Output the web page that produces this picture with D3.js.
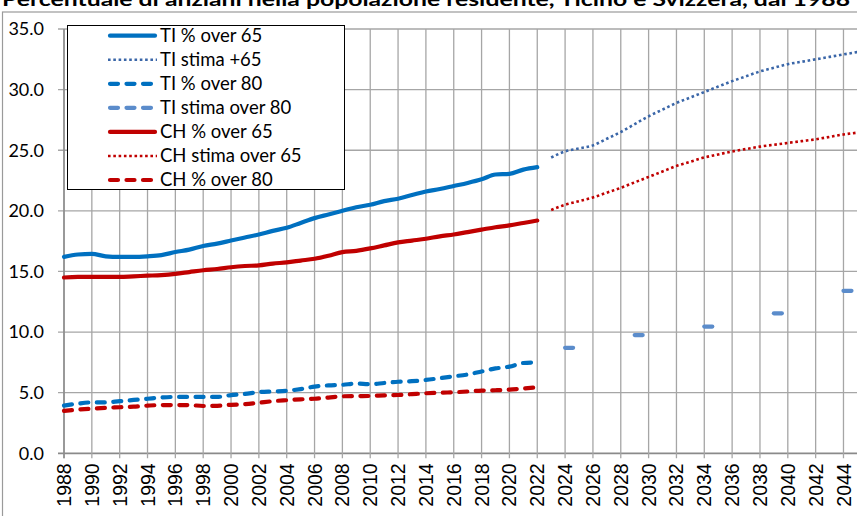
<!DOCTYPE html>
<html>
<head>
<meta charset="utf-8">
<script src="https://cdn.jsdelivr.net/npm/d3@7"></script>
<style>
  html, body { margin: 0; padding: 0; background: #fff; }
  svg { display: block; }
</style>
</head>
<body>
<svg id="chart" width="857" height="516"></svg>
<script>
// ---- DATA ----
const title = "Percentuale di anziani nella popolazione residente, Ticino e Svizzera, dal 1988";
const histYears = d3.range(1988, 2023);      // 1988..2022
const projYears = d3.range(2023, 2046);      // 2023..2045
const axisYears = d3.range(1988, 2046);      // category axis
const xTickLabels = d3.range(1988, 2045, 2).map(String);
const yTicks = [0, 5, 10, 15, 20, 25, 30, 35];

const tiOver65 = [16.2,16.4,16.45,16.25,16.2,16.2,16.25,16.35,16.6,16.8,17.1,17.3,17.55,17.8,18.05,18.35,18.6,19.0,19.4,19.7,20.0,20.3,20.5,20.8,21.0,21.3,21.6,21.8,22.05,22.3,22.6,23.0,23.05,23.4,23.6];
const chOver65 = [14.5,14.55,14.55,14.55,14.55,14.6,14.65,14.7,14.8,14.95,15.1,15.2,15.35,15.45,15.5,15.65,15.75,15.9,16.05,16.3,16.6,16.7,16.9,17.15,17.4,17.55,17.7,17.9,18.05,18.25,18.45,18.65,18.8,19.0,19.2];
const tiOver80 = [3.93,4.1,4.2,4.2,4.3,4.4,4.5,4.6,4.65,4.65,4.65,4.65,4.8,4.9,5.05,5.1,5.15,5.3,5.5,5.6,5.65,5.75,5.7,5.8,5.9,5.95,6.05,6.2,6.35,6.5,6.75,7.0,7.15,7.45,7.5];
const chOver80 = [3.5,3.6,3.68,3.75,3.8,3.85,3.93,3.98,3.98,3.98,3.9,3.92,4.0,4.05,4.17,4.3,4.38,4.45,4.5,4.6,4.7,4.72,4.73,4.78,4.81,4.88,4.95,5.0,5.03,5.1,5.17,5.2,5.25,5.35,5.44];
const tiStima65 = [24.4,24.9,25.15,25.4,25.95,26.5,27.15,27.8,28.35,28.9,29.35,29.8,30.25,30.7,31.1,31.5,31.8,32.1,32.3,32.5,32.7,32.9,33.1];
const chStima65 = [20.07,20.5,20.8,21.1,21.5,21.9,22.35,22.8,23.25,23.7,24.05,24.4,24.65,24.9,25.1,25.3,25.45,25.6,25.75,25.9,26.1,26.3,26.45];
const tiStima80Years = [2024, 2029, 2034, 2039, 2044];
const tiStima80 = [8.7, 9.75, 10.45, 11.55, 13.4];

const legendLabels = ["TI % over 65","TI stima +65","TI % over 80","TI stima over 80","CH % over 65","CH stima over 65","CH % over 80"];

// ---- STYLES ----
const C_BLUE = "#0070C0", C_BLUE_DOT = "#3A66A8", C_BLUE_LIGHT = "#5B8CCB", C_RED = "#C00000";
const styles = [
  {color: C_BLUE, width: 4.2, dash: null, cap: "round"},
  {color: C_BLUE_DOT, width: 2.6, dash: "2.6,2.7", cap: "butt"},
  {color: C_BLUE, width: 4.2, dash: "8,8.5", cap: "round"},
  {color: C_BLUE_LIGHT, width: 4.2, dash: "8,8.5", cap: "round"},
  {color: C_RED, width: 4.2, dash: null, cap: "round"},
  {color: C_RED, width: 2.6, dash: "2.6,2.7", cap: "butt"},
  {color: C_RED, width: 4.2, dash: "8,8.5", cap: "round"}
];

const svg = d3.select("#chart");
const FONT = "Lato, 'Open Sans', sans-serif";

// chart area border
svg.append("rect").attr("x", 2.5).attr("y", 12).attr("width", 900).attr("height", 600)
  .attr("fill", "#fff").attr("stroke", "#9a9a9a").attr("stroke-width", 1.2);

// title (partly above the top edge, as in the reference)
svg.append("text").attr("x", 2).attr("y", 6)
  .attr("font-family", FONT).attr("font-weight", "bold").attr("font-size", 19)
  .attr("textLength", 848).attr("lengthAdjust", "spacingAndGlyphs")
  .attr("fill", "#000").text(title);

// scales
const x = d3.scalePoint().domain(axisYears).range([64, 857.4]);
const y = d3.scaleLinear().domain([0, 35]).range([453.3, 29]);

// gridlines
const grid = svg.append("g");
grid.selectAll("line.h").data(yTicks).join("line")
  .attr("x1", 58).attr("x2", 857).attr("y1", d => y(d)).attr("y2", d => y(d))
  .attr("stroke", d => d === 0 ? "#8a8a8a" : "#a6a6a6").attr("stroke-width", d => d === 0 ? 1.8 : 1.3);
grid.selectAll("line.v").data(xTickLabels).join("line")
  .attr("x1", d => x(+d)).attr("x2", d => x(+d)).attr("y1", y(35)).attr("y2", y(0) + 5)
  .attr("stroke", "#a6a6a6").attr("stroke-width", 1.3);
// y axis line
svg.append("line").attr("x1", 64).attr("x2", 64).attr("y1", y(35)).attr("y2", y(0) + 5)
  .attr("stroke", "#8a8a8a").attr("stroke-width", 1.5);

// y labels
svg.append("g").selectAll("text").data(yTicks).join("text")
  .attr("x", 44).attr("y", d => y(d)).attr("dy", "0.35em").attr("text-anchor", "end")
  .attr("font-family", FONT).attr("font-size", 18).attr("fill", "#000")
  .text(d => d.toFixed(1));

// x labels
svg.append("g").selectAll("text").data(xTickLabels).join("text")
  .attr("transform", d => `translate(${x(+d)},${y(0) + 10}) rotate(-90)`)
  .attr("dy", "0.36em").attr("text-anchor", "end")
  .attr("font-family", "'Liberation Sans', Arial, sans-serif").attr("font-size", 19.5).attr("fill", "#000")
  .text(d => d);

// lines
const line = d3.line().x(d => x(d[0])).y(d => y(d[1])).curve(d3.curveMonotoneX);
function drawSeries(years, values, st) {
  svg.append("path").datum(years.map((yr, i) => [yr, values[i]]))
    .attr("d", line).attr("fill", "none")
    .attr("stroke", st.color).attr("stroke-width", st.width)
    .attr("stroke-linecap", st.cap).attr("stroke-linejoin", "round")
    .attr("stroke-dasharray", st.dash);
}
drawSeries(histYears, chOver80, styles[6]);
drawSeries(histYears, tiOver80, styles[2]);
drawSeries(projYears, chStima65, styles[5]);
drawSeries(projYears, tiStima65, styles[1]);
drawSeries(histYears, chOver65, styles[4]);
drawSeries(histYears, tiOver65, styles[0]);
// TI stima over 80: isolated estimates drawn as short dashes over one category step
svg.append("g").selectAll("line").data(tiStima80Years.map((yr, i) => [yr, tiStima80[i]])).join("line")
  .attr("x1", d => x(d[0])).attr("x2", d => x(d[0] + 1))
  .attr("y1", d => y(d[1])).attr("y2", d => y(d[1]))
  .attr("stroke", C_BLUE_LIGHT).attr("stroke-width", 4.2).attr("stroke-linecap", "round")
  .attr("stroke-dasharray", "8,8.5");

// legend
const lg = svg.append("g");
lg.append("rect").attr("x", 67.5).attr("y", 25.5).attr("width", 277).attr("height", 164)
  .attr("fill", "#fff").attr("stroke", "#000").attr("stroke-width", 1);
legendLabels.forEach((lab, i) => {
  const yy = 35.7 + i * 24.05;
  const st = styles[i];
  lg.append("line").attr("x1", st.cap === "round" ? 110 : 108).attr("x2", st.cap === "round" ? 155 : 157)
    .attr("y1", yy).attr("y2", yy)
    .attr("stroke", st.color).attr("stroke-width", st.width).attr("stroke-linecap", st.cap)
    .attr("stroke-dasharray", st.dash);
  lg.append("text").attr("x", 160).attr("y", yy).attr("dy", "0.35em")
    .attr("font-family", FONT).attr("font-size", 18.5).attr("fill", "#000").text(lab);
});
</script>
</body>
</html>
